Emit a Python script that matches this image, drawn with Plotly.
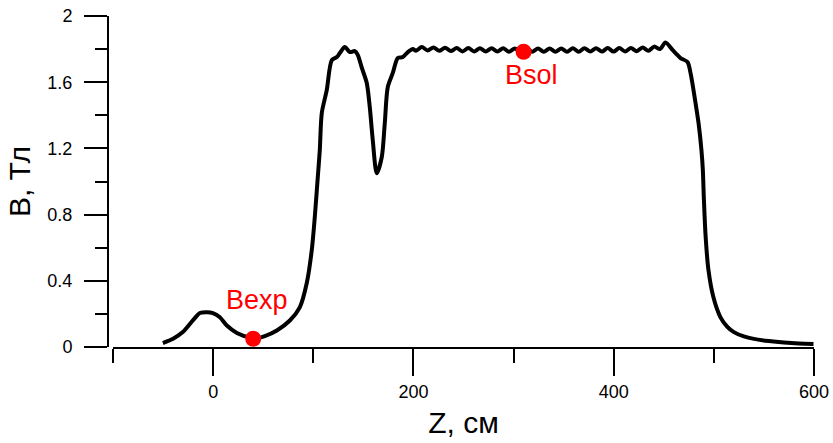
import plotly.graph_objects as go

# Field profile B(z)
z_vals = [
    -50.2, -40.0, -30.3, -18.3, -13.3, -6.0, -0.3, 6.7, 13.7, 23.7, 36.6, 45.0, 51.6, 63.6, 76.6,
    86.5, 93.5, 98.5, 101.5, 104.5, 106.5, 108.5, 113.5, 118.5, 123.5, 126.5, 131.5, 136.5,
    141.5, 144.5, 148.5, 153.4, 156.4, 159.4, 163.4, 168.4, 171.4, 174.4, 179.4, 184.4,
    189.4, 194.4, 199.4,
    202.6, 208.4, 214.2, 220.0, 225.8, 231.6, 237.4, 243.2, 249.0, 254.8, 260.6, 266.4,
    272.2, 278.0, 283.8, 289.6, 295.4, 301.2, 307.0, 312.8, 318.6, 324.4, 330.2, 336.0,
    341.8, 347.6, 353.4, 359.2, 365.0, 370.8, 376.6, 382.4, 388.2, 394.0, 399.8, 405.6,
    411.4, 417.2, 423.0, 428.8, 434.6, 440.4, 446.2, 451.7,
    458.7, 461.7, 466.7, 473.7, 476.7, 481.7, 484.7, 487.6, 489.0, 490.0, 491.8, 494.6,
    499.5, 506.5, 513.0, 520.0, 530.0, 540.0, 555.0, 570.0, 585.0, 599.5,
]
b_vals = [
    0.024, 0.050, 0.090, 0.175, 0.205, 0.210, 0.205, 0.180, 0.130, 0.085, 0.058, 0.055, 0.066, 0.100, 0.160,
    0.240, 0.387, 0.586, 0.785, 1.027, 1.190, 1.414, 1.553, 1.734, 1.752, 1.776, 1.813, 1.782,
    1.788, 1.764, 1.686, 1.595, 1.450, 1.250, 1.050, 1.148, 1.353, 1.571, 1.656, 1.746,
    1.752, 1.782, 1.800,
    1.790, 1.812, 1.792, 1.810, 1.790, 1.808, 1.788, 1.806, 1.786, 1.806, 1.786, 1.805,
    1.785, 1.805, 1.785, 1.805, 1.784, 1.804, 1.784, 1.804, 1.784, 1.804, 1.784, 1.804,
    1.784, 1.804, 1.784, 1.805, 1.784, 1.805, 1.785, 1.805, 1.785, 1.806, 1.785, 1.806,
    1.786, 1.807, 1.787, 1.810, 1.790, 1.815, 1.800, 1.840,
    1.795, 1.776, 1.746, 1.722, 1.656, 1.474, 1.353, 1.190, 1.070, 0.900, 0.665, 0.465,
    0.302, 0.181, 0.125, 0.090, 0.064, 0.049, 0.036, 0.027, 0.021, 0.018,
]

point_names = ["Bexp", "Bsol"]
point_z = [40, 310]
point_b = [0.05, 1.784]

x_tick_vals = [0, 200, 400, 600]
y_tick_vals = [0, 0.4, 0.8, 1.2, 1.6, 2.0]
y_tick_text = ["0", "0.4", "0.8", "1.2", "1.6", "2"]

tick_font = dict(family="Liberation Sans Narrow, Liberation Sans, Arial, sans-serif", size=18, color="black")
title_font = dict(family="Liberation Sans, Arial, sans-serif", size=30, color="black")
label_font = dict(family="Liberation Sans, Arial, sans-serif", size=27, color="#ff0000")

fig = go.Figure()
fig.add_trace(go.Scatter(
    x=z_vals, y=b_vals, mode="lines",
    line=dict(color="black", width=4, shape="spline", smoothing=0.8),
    showlegend=False, hoverinfo="skip",
))
fig.add_trace(go.Scatter(
    x=point_z, y=point_b, mode="markers",
    marker=dict(color="#ff0000", size=16),
    showlegend=False,
))
fig.add_annotation(x=point_z[0], y=point_b[0], text=point_names[0], showarrow=False,
                   xanchor="center", yanchor="bottom", yshift=22, xshift=4, font=label_font)
fig.add_annotation(x=point_z[1], y=point_b[1], text=point_names[1], showarrow=False,
                   xanchor="center", yanchor="top", yshift=-6, xshift=8, font=label_font)

fig.update_layout(
    width=833, height=443,
    margin=dict(l=108, r=19, t=16, b=95, autoexpand=False),
    paper_bgcolor="white", plot_bgcolor="white",
    xaxis=dict(
        range=[-100, 600], domain=[5 / 706, 1], anchor="free", position=0,
        automargin=False,
        showgrid=False, zeroline=False,
        showline=True, linecolor="black", linewidth=2,
        tickmode="array", tickvals=x_tick_vals, ticktext=[str(v) for v in x_tick_vals],
        ticks="outside", ticklen=27, tickwidth=2, tickcolor="black",
        minor=dict(tickmode="linear", tick0=-100, dtick=100, ticks="outside", ticklen=14,
                   tickwidth=2, tickcolor="black", showgrid=False),
        tickfont=tick_font,
        title=dict(text="Z, см", font=title_font, standoff=10),
    ),
    yaxis=dict(
        range=[0, 2], domain=[1 / 332, 1], anchor="free", position=0,
        automargin=False,
        showgrid=False, zeroline=False,
        showline=True, linecolor="black", linewidth=2,
        tickmode="array", tickvals=y_tick_vals, ticktext=y_tick_text,
        ticks="outside", ticklen=23, tickwidth=2, tickcolor="black",
        minor=dict(tickmode="linear", tick0=0.2, dtick=0.4, ticks="outside", ticklen=12,
                   tickwidth=2, tickcolor="black", showgrid=False),
        tickfont=tick_font, ticklabelstandoff=8,
        title=dict(text="B, Тл", font=title_font, standoff=7),
    ),
)

fig.write_html("out.html")
